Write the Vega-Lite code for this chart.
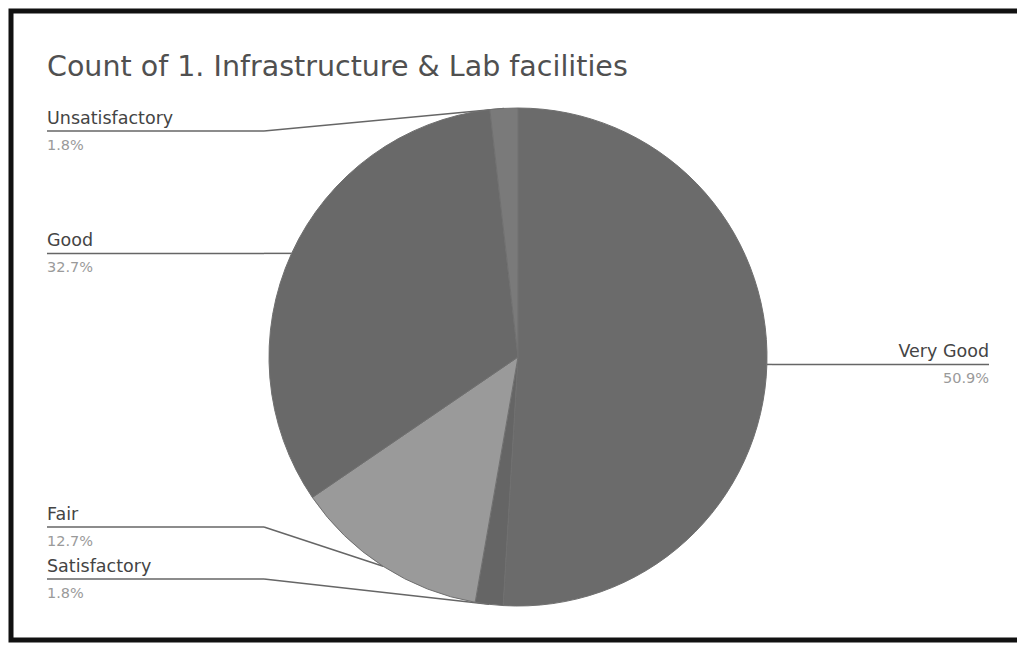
{
  "$schema": "https://vega.github.io/schema/vega-lite/v6.json",
  "width": 1012,
  "height": 629,
  "autosize": "none",
  "padding": {"left": 11, "top": 11, "right": -6, "bottom": 5},
  "background": "white",
  "config": {"view": {"stroke": "#111111", "strokeWidth": 5}, "font": "DejaVu Sans"},
  "title": {
    "text": "Count of 1. Infrastructure & Lab facilities",
    "anchor": "start",
    "frame": "group",
    "dx": 36,
    "offset": -93,
    "baseline": "alphabetic",
    "font": "DejaVu Sans",
    "fontSize": 28.5,
    "fontWeight": "normal",
    "color": "#505050"
  },
  "data": {
    "values": [
      {"rating": "Very Good", "pct": 50.9},
      {"rating": "Satisfactory", "pct": 1.8},
      {"rating": "Fair", "pct": 12.7},
      {"rating": "Good", "pct": 32.7},
      {"rating": "Unsatisfactory", "pct": 1.8}
    ]
  },
  "transform": [
    {"window": [{"op": "row_number", "as": "k"}]},
    {"stack": "pct", "groupby": [], "sort": [{"field": "k", "order": "ascending"}], "offset": "normalize", "as": ["a0", "a1"]},
    {"calculate": "(datum.a0 + datum.a1) * PI", "as": "m"},
    {"calculate": "sin(datum.m)", "as": "ex"},
    {"calculate": "cos(datum.m)", "as": "ey"},
    {"calculate": "datum.ex < 0 ? 'left' : 'right'", "as": "side"},
    {"calculate": "clamp(datum.ey, -0.8916, 0.9076)", "as": "c"},
    {"window": [{"op": "lag", "field": "c", "as": "cBelow"}], "groupby": ["side"], "sort": [{"field": "c", "order": "ascending"}]},
    {"calculate": "datum.cBelow == null ? datum.c : max(datum.c, datum.cBelow + 0.2088)", "as": "ly"},
    {"calculate": "datum.side == 'left' ? -1.8916 : 1.8916", "as": "lx"},
    {"calculate": "datum.side == 'left' ? -1.02 : 1.02", "as": "bx"},
    {"calculate": "format(datum.pct, '.1f') + '%'", "as": "pctLabel"}
  ],
  "layer": [
    {
      "mark": {"type": "rule", "stroke": "#666666", "strokeWidth": 1.5},
      "encoding": {
        "x": {"field": "lx", "type": "quantitative", "scale": {"domain": [-2.0361, 2.0281], "nice": false, "zero": false}, "axis": null},
        "x2": {"field": "bx"},
        "y": {"field": "ly", "type": "quantitative", "scale": {"domain": [-1.1365, 1.3896], "nice": false, "zero": false}, "axis": null},
        "y2": {"field": "ly"}
      }
    },
    {
      "mark": {"type": "rule", "stroke": "#666666", "strokeWidth": 1.5},
      "encoding": {
        "x": {"field": "bx", "type": "quantitative"},
        "x2": {"field": "ex"},
        "y": {"field": "ly", "type": "quantitative"},
        "y2": {"field": "ey"}
      }
    },
    {
      "mark": {"type": "arc", "outerRadius": 249, "stroke": "#707070", "strokeWidth": 1},
      "encoding": {
        "x": {"datum": 0, "type": "quantitative"},
        "y": {"datum": 0, "type": "quantitative"},
        "theta": {"field": "a0", "type": "quantitative", "scale": {"domain": [0, 1]}},
        "theta2": {"field": "a1"},
        "color": {
          "field": "rating",
          "type": "nominal",
          "scale": {
            "domain": ["Very Good", "Satisfactory", "Fair", "Good", "Unsatisfactory"],
            "range": ["#6b6b6b", "#656565", "#9a9a9a", "#696969", "#7a7a7a"]
          },
          "legend": null
        }
      }
    },
    {
      "transform": [{"filter": "datum.side == 'left'"}],
      "mark": {"type": "text", "align": "left", "baseline": "alphabetic", "dy": -7.5, "font": "DejaVu Sans", "fontSize": 17.5, "color": "#444444"},
      "encoding": {
        "x": {"field": "lx", "type": "quantitative"},
        "y": {"field": "ly", "type": "quantitative"},
        "text": {"field": "rating"}
      }
    },
    {
      "transform": [{"filter": "datum.side == 'left'"}],
      "mark": {"type": "text", "align": "left", "baseline": "alphabetic", "dy": 19, "font": "DejaVu Sans", "fontSize": 14.5, "color": "#9a9a9a"},
      "encoding": {
        "x": {"field": "lx", "type": "quantitative"},
        "y": {"field": "ly", "type": "quantitative"},
        "text": {"field": "pctLabel"}
      }
    },
    {
      "transform": [{"filter": "datum.side == 'right'"}],
      "mark": {"type": "text", "align": "right", "baseline": "alphabetic", "dy": -7.5, "font": "DejaVu Sans", "fontSize": 17.5, "color": "#444444"},
      "encoding": {
        "x": {"field": "lx", "type": "quantitative"},
        "y": {"field": "ly", "type": "quantitative"},
        "text": {"field": "rating"}
      }
    },
    {
      "transform": [{"filter": "datum.side == 'right'"}],
      "mark": {"type": "text", "align": "right", "baseline": "alphabetic", "dy": 19, "font": "DejaVu Sans", "fontSize": 14.5, "color": "#9a9a9a"},
      "encoding": {
        "x": {"field": "lx", "type": "quantitative"},
        "y": {"field": "ly", "type": "quantitative"},
        "text": {"field": "pctLabel"}
      }
    }
  ]
}
